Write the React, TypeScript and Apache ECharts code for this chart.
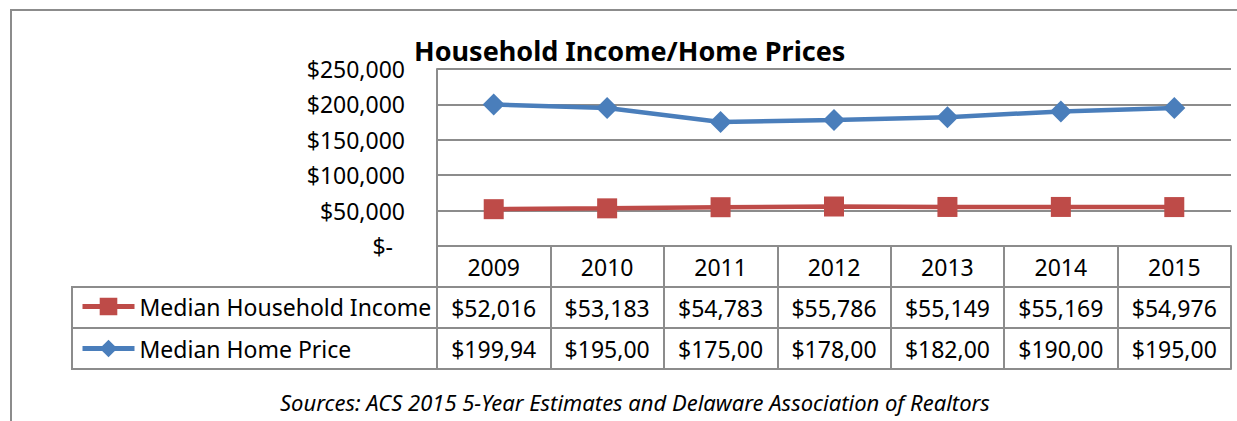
import React, { useEffect, useRef } from 'react';
import * as echarts from 'echarts';

const years = ['2009', '2010', '2011', '2012', '2013', '2014', '2015'];
const householdIncome = [52016, 53183, 54783, 55786, 55149, 55169, 54976];
const homePrice = [199940, 195000, 175000, 178000, 182000, 190000, 195000];
const seriesNames = ['Median Household Income', 'Median Home Price'];
const yMin = 0;
const yMax = 250000;
const yInterval = 50000;
const titleText = 'Household Income/Home Prices';
const sourceText = 'Sources: ACS 2015 5-Year Estimates and Delaware Association of Realtors';

const FONT = '"Noto Sans", sans-serif';
const GRAY = '#8c8c8c';
const RED = '#BE4B48';
const BLUE = '#4A7EBB';
const ROW_H = 41;
const FS = 23;

const money = (n: number) => '$' + n.toLocaleString('en-US');

function tableAxis(offset: number, labels: string[], showTicks: boolean, showLabels: boolean) {
  return {
    type: 'category',
    data: years,
    gridIndex: 0,
    position: 'bottom',
    offset,
    boundaryGap: true,
    axisLine: { show: true, lineStyle: { color: GRAY, width: 2 } },
    axisTick: { show: showTicks, length: ROW_H, inside: false, lineStyle: { color: GRAY, width: 2 } },
    axisLabel: {
      show: showLabels,
      interval: 0,
      formatter: (_v: string, i: number) => labels[i],
      margin: 21,
      verticalAlign: 'middle',
      fontSize: FS,
      color: '#000',
      fontFamily: FONT,
      width: 92,
      overflow: 'truncate',
      ellipsis: '',
    },
    splitLine: { show: false },
  };
}

export default function App() {
  const ref = useRef<HTMLDivElement>(null);
  useEffect(() => {
    if (!ref.current) return;
    const chart = echarts.init(ref.current, null, { renderer: 'svg' });
    chart.setOption({
      animation: false,
      backgroundColor: '#fff',
      title: [
        {
          text: titleText,
          left: 409,
          top: 32,
          textStyle: { fontSize: 27, fontWeight: 'bold', fontFamily: FONT, color: '#000' },
        },
        {
          text: sourceText,
          left: 275,
          top: 386,
          textStyle: { fontSize: 22, fontStyle: 'italic', fontWeight: 'normal', fontFamily: FONT, color: '#000' },
        },
      ],
      grid: { left: 437, right: 6, top: 69, bottom: 175, containLabel: false },
      legend: {
        orient: 'vertical',
        left: 75,
        top: 290,
        itemGap: 19,
        itemWidth: 52,
        itemHeight: 22,
        data: seriesNames,
        lineStyle: { width: 5 },
        textStyle: { fontSize: FS, fontFamily: FONT, color: '#000' },
      },
      xAxis: [
        tableAxis(0, years, true, true),
        tableAxis(ROW_H, householdIncome.map(money), true, true),
        tableAxis(ROW_H * 2, homePrice.map(money), true, true),
        tableAxis(ROW_H * 3, years, false, false),
      ],
      yAxis: {
        type: 'value',
        min: yMin,
        max: yMax,
        interval: yInterval,
        axisLine: { show: true, lineStyle: { color: GRAY, width: 2 } },
        axisTick: { show: false },
        splitLine: { show: true, lineStyle: { color: GRAY, width: 2 } },
        axisLabel: {
          margin: 32,
          fontSize: FS,
          fontFamily: FONT,
          color: '#000',
          formatter: (v: number) => (v === 0 ? '{z|$-}' : money(v)),
          rich: { z: { fontSize: FS, fontFamily: FONT, color: '#000', padding: [0, 12, 0, 0] } },
        },
      },
      series: [
        {
          name: seriesNames[0],
          type: 'line',
          data: householdIncome,
          xAxisIndex: 0,
          symbol: 'rect',
          symbolSize: 20,
          color: RED,
          lineStyle: { width: 4.5, color: RED },
          itemStyle: { color: RED },
        },
        {
          name: seriesNames[1],
          type: 'line',
          data: homePrice,
          xAxisIndex: 0,
          symbol: 'diamond',
          symbolSize: 22,
          color: BLUE,
          lineStyle: { width: 4.5, color: BLUE },
          itemStyle: { color: BLUE },
        },
      ],
      graphic: [
        {
          type: 'polyline',
          shape: { points: [[11, 421], [11, 10], [1237, 10]] },
          style: { stroke: GRAY, lineWidth: 2, fill: 'none' },
        },
        {
          type: 'rect',
          shape: { x: 72, y: 287, width: 365, height: ROW_H * 2 },
          style: { stroke: GRAY, lineWidth: 2, fill: 'none' },
        },
        {
          type: 'line',
          shape: { x1: 72, y1: 287 + ROW_H, x2: 437, y2: 287 + ROW_H },
          style: { stroke: GRAY, lineWidth: 2 },
        },
      ],
    });
    return () => chart.dispose();
  }, []);
  return <div ref={ref} style={{ position: 'fixed', left: 0, top: 0, width: 1237, height: 421 }} />;
}
